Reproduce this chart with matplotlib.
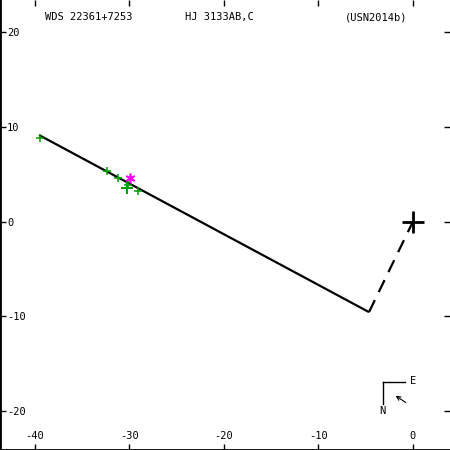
import matplotlib
matplotlib.use("Agg")
import matplotlib.pyplot as plt

obs_x = [-39.47, -32.41, -31.25, -30.12, -29.13]
obs_y = [8.82, 5.33, 4.56, 3.85, 3.25]
obs_big_x = [-30.23]
obs_big_y = [3.51]
# Magenta asterisk
mag_x = [-29.94]
mag_y = [4.56]
# Linear fit line
fit_x = [-39.57, -4.65]
fit_y = [9.13, -9.55]
# Dashed line to primary
dash_x = [-4.65, 0.0]
dash_y = [-9.55, 0.0]
# Primary
prim_x = [0.0]
prim_y = [0.0]

xticks = [-40, -30, -20, -10, 0]
yticks = [-20, -10, 0, 10, 20]
titles = ["WDS 22361+7253", "HJ 3133AB,C", "(USN2014b)"]

plt.rcParams['font.family'] = ['DejaVu Sans Mono']
fs = 7.5

fig = plt.figure(figsize=(4.5, 4.5), dpi=100)
ax = fig.add_axes([0, 0, 1, 1])
ax.set_xlim(-43.70, 3.92)
ax.set_ylim(-24.1, 23.38)

ax.plot(fit_x, fit_y, color='black', lw=1.6, solid_capstyle='butt')
ax.plot(dash_x, dash_y, color='black', lw=1.6, dashes=(6, 4))
ax.plot(prim_x, prim_y, marker='+', color='black', ms=16, mew=2, ls='none')
ax.plot(obs_x, obs_y, marker='+', color='#00a000', ms=6, mew=1.1, ls='none')
ax.plot(obs_big_x, obs_big_y, marker='+', color='#00a000', ms=8, mew=1.5, ls='none')
ax.plot(mag_x, mag_y, marker=(6, 2, 0), color='#ff00ff', ms=7, mew=1.2, ls='none')

ax.set_xticks(xticks)
ax.set_yticks(yticks)
ax.set_xticklabels([str(v) for v in xticks])
ax.set_yticklabels([str(v) for v in yticks])
ax.tick_params(axis='both', direction='in', length=4, width=1, labelsize=fs,
               top=True, right=True)
ax.tick_params(axis='y', pad=-5)
ax.tick_params(axis='x', pad=-6.5)
for lab in ax.get_yticklabels():
    lab.set_horizontalalignment('left')
for lab in ax.get_xticklabels():
    lab.set_verticalalignment('bottom')

ax.spines['top'].set_visible(False)
ax.spines['right'].set_visible(False)
ax.spines['left'].set_linewidth(2)
ax.spines['bottom'].set_linewidth(2)

tx = [0.1, 0.411, 0.767]
for t, x in zip(titles, tx):
    ax.text(x, 0.962, t, transform=ax.transAxes, fontsize=fs, ha='left', va='center')

# compass
ax.plot([0.852, 0.9], [0.152, 0.152], transform=ax.transAxes, color='black', lw=1)
ax.plot([0.852, 0.852], [0.152, 0.102], transform=ax.transAxes, color='black', lw=1)
ax.text(0.850, 0.087, "N", transform=ax.transAxes, fontsize=fs, ha='center', va='center')
ax.text(0.917, 0.154, "E", transform=ax.transAxes, fontsize=fs, ha='center', va='center')
ax.annotate("", xy=(0.874, 0.124), xytext=(0.907, 0.102), xycoords='axes fraction',
            arrowprops=dict(arrowstyle='->', lw=0.8, color='black', mutation_scale=7))

fig.savefig("out.png", dpi=100)
